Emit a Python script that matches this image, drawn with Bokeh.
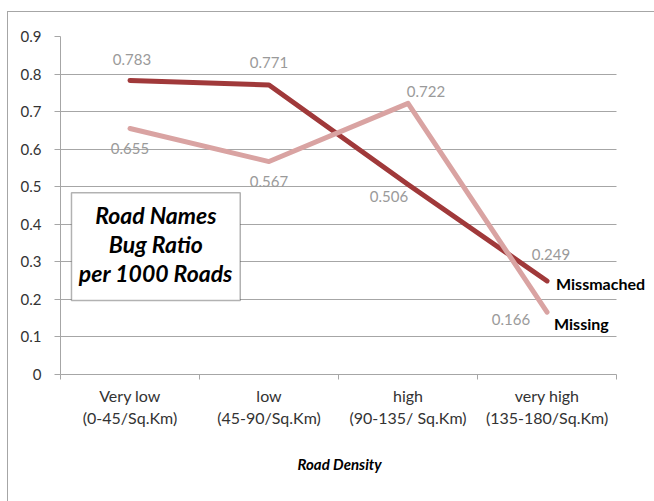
from bokeh.plotting import figure
from bokeh.models import FixedTicker, Label, BoxAnnotation, ColumnDataSource, Range1d, Title
from bokeh.core.properties import value
from bokeh.embed import file_html
from bokeh.resources import INLINE

categories = ["Very low\n(0-45/Sq.Km)", "low\n(45-90/Sq.Km)",
              "high\n(90-135/ Sq.Km)", "very high\n(135-180/Sq.Km)"]
missmached = [0.783, 0.771, 0.506, 0.249]
missing = [0.655, 0.567, 0.722, 0.166]
y_ticks = [0, 0.1, 0.2, 0.3, 0.4, 0.5, 0.6, 0.7, 0.8, 0.9]
y_tick_labels = ["0", "0.1", "0.2", "0.3", "0.4", "0.5", "0.6", "0.7", "0.8", "0.9"]
series_names = ["Missmached", "Missing"]
box_title = ["Road Names", "Bug Ratio", "per 1000 Roads"]
x_title = "Road Density"

FONT = "Lato"
DARK = "#A0393A"
PINK = "#D9A3A2"
GRID = "#A6A6A6"
LABEL_GRAY = "#9A9A9A"

xs = list(range(len(categories)))
x_lo, x_hi = -0.5, len(categories) - 0.5

p = figure(width=654, height=501,
           x_range=Range1d(x_lo, x_hi + 0.273),
           y_range=Range1d(y_ticks[0], y_ticks[-1]),
           output_backend="svg", toolbar_location=None,
           min_border_left=60, min_border_right=0,
           min_border_top=36, min_border_bottom=127)
p.outline_line_color = None
p.background_fill_color = "white"
p.border_fill_color = None
p.styles = {
    "background-color": "white",
    "background-image": "linear-gradient(#A6A6A6, #A6A6A6), linear-gradient(#A6A6A6, #A6A6A6)",
    "background-size": "100% 1px, 1px 100%",
    "background-position": "7px 11px, 7px 11px",
    "background-repeat": "no-repeat",
}

# y axis
yt = FixedTicker(ticks=y_ticks)
p.yaxis.ticker = yt
p.yaxis.major_label_overrides = {t: l for t, l in zip(y_ticks, y_tick_labels)}
p.yaxis.major_tick_out = 6
p.yaxis.major_tick_in = 0
p.yaxis.minor_tick_out = 0
p.yaxis.minor_tick_in = 0
p.yaxis.major_label_standoff = 13
p.yaxis.axis_line_color = GRID
p.yaxis.major_tick_line_color = GRID
p.yaxis.major_label_text_font = FONT
p.yaxis.major_label_text_font_size = "15px"
p.yaxis.major_label_text_color = "#333333"
p.ygrid.ticker = yt
p.ygrid.grid_line_color = GRID
p.ygrid.cross_bounds = (x_lo, x_hi)
p.xgrid.grid_line_color = None

# x axis
xt = FixedTicker(ticks=xs, minor_ticks=[x - 0.5 for x in xs] + [xs[-1] + 0.5])
p.xaxis.ticker = xt
p.xaxis.bounds = (x_lo, x_hi)
p.xaxis.major_label_overrides = {x: c for x, c in zip(xs, categories)}
p.xaxis.major_tick_out = 0
p.xaxis.major_tick_in = 0
p.xaxis.minor_tick_out = 5
p.xaxis.minor_tick_in = 0
p.xaxis.minor_tick_line_color = GRID
p.xaxis.axis_line_color = GRID
p.xaxis.major_label_standoff = 6
p.xaxis.major_label_text_font = FONT
p.xaxis.major_label_text_font_size = "16px"
p.xaxis.major_label_text_color = "#333333"

# x axis title (as a below-panel title, centred on the category area)
p.add_layout(Title(text=x_title, align="left", offset=237, standoff=45,
                   text_font=FONT, text_font_style="bold italic",
                   text_font_size="15px", text_color="black"), "below")

# lines
p.line(xs, missmached, line_color=DARK, line_width=5, line_cap="round", line_join="round")
p.line(xs, missing, line_color=PINK, line_width=5, line_cap="round", line_join="round")

# data labels
src1 = ColumnDataSource(dict(
    x=xs, y=missmached, t=[f"{v:.3f}" for v in missmached],
    dx=[2, 0, -19, 4], dy=[-21, -22, 12, -26]))
src2 = ColumnDataSource(dict(
    x=xs, y=missing, t=[f"{v:.3f}" for v in missing],
    dx=[0, 0, 18, -36], dy=[20, 20, -12, 7]))
for src in (src1, src2):
    p.text(x="x", y="y", text="t", x_offset="dx", y_offset="dy", source=src,
           text_align="center", text_baseline="middle",
           text_font=value(FONT), text_font_size="15px", text_color=LABEL_GRAY)

# series names at line ends
p.add_layout(Label(x=xs[-1], y=missmached[-1], text=series_names[0], x_offset=9,
                   y_offset=-3, text_align="left", text_baseline="middle",
                   text_font=FONT, text_font_style="bold", text_font_size="16px",
                   text_color="black"))
p.add_layout(Label(x=xs[-1], y=missing[-1], text=series_names[1], x_offset=7,
                   y_offset=-11, text_align="left", text_baseline="middle",
                   text_font=FONT, text_font_style="bold", text_font_size="16px",
                   text_color="black"))

# title box
p.add_layout(BoxAnnotation(left=-0.421, right=0.793, top=0.484, bottom=0.197,
                           fill_color="white", fill_alpha=1, line_color="black",
                           line_width=1.5))
for i, line in enumerate(box_title):
    p.add_layout(Label(x=0.186, y=0.4256 - i * 0.0771, text=line,
                       text_align="center", text_baseline="middle",
                       text_font=FONT, text_font_style="bold italic",
                       text_font_size="23px", text_color="black"))

open("out.html", "w").write(file_html(p, INLINE))
